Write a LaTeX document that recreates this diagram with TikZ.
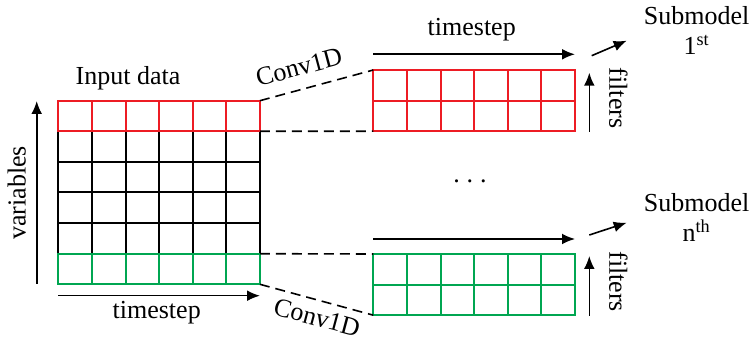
\documentclass[tikz,border=0pt]{standalone}
\usepackage{fontspec}
\setmainfont{Liberation Serif}
\usetikzlibrary{arrows.meta}
\definecolor{rowred}{RGB}{237,28,36}
\definecolor{rowgreen}{RGB}{0,166,81}
\tikzset{
  cell/.style={line width=1pt},
  axis/.style={-{Latex[length=6.5pt,width=5.4pt]}, line width=0.8pt},
  link/.style={line width=0.8pt, dash pattern=on 5pt off 3pt},
  lbl/.style={font=\fontsize{13}{15}\selectfont, inner sep=0pt},
}
\begin{document}
\begin{tikzpicture}[x=0.5pt,y=-0.5pt]
    \def \cw {33.6}
    \def \ch {30.6}
    \useasboundingbox (0,0) rectangle (754,341);

    % входная матрица
    \foreach \i in {0,...,5} {
        \foreach \j in {0,...,5} {
            \draw [cell] (58.3+\i*\cw, 100.7+\j*\ch) rectangle ++(\cw,\ch);
        }
    }
    \foreach \i in {0,...,5} {
        \draw [cell, rowred] (58.3+\i*\cw, 100.7) rectangle ++(\cw,\ch);
        \draw [cell, rowgreen] (58.3+\i*\cw, 253.7) rectangle ++(\cw,\ch);
    }

    % карты признаков
    \foreach \i in {0,...,5} {
        \foreach \j in {0,1} {
            \draw [cell, rowred] (373.3+\i*\cw, 70+\j*\ch) rectangle ++(\cw,\ch);
            \draw [cell, rowgreen] (373.3+\i*\cw, 254+\j*\ch) rectangle ++(\cw,\ch);
        }
    }

    % углы
    \coordinate (in-ne) at (259.9, 100.7);
    \coordinate (in-red-se) at (259.9, 131.3);
    \coordinate (in-green-ne) at (259.9, 253.7);
    \coordinate (in-se) at (259.9, 284.3);
    \coordinate (top-nw) at (373.3, 70);
    \coordinate (top-sw) at (373.3, 131.2);
    \coordinate (bot-nw) at (373.3, 254);
    \coordinate (bot-sw) at (373.3, 315.2);

    \draw [link] (in-ne) -- (top-nw);
    \draw [link] (in-red-se) -- (top-sw);
    \draw [link] (in-green-ne) -- (bot-nw);
    \draw [link] (in-se) -- (bot-sw);

    % оси
    \coordinate (var-s) at (36.7, 284);
    \coordinate (var-n) at (36.7, 101);
    \coordinate (ts-w) at (58.3, 295.7);
    \coordinate (ts-e) at (260, 295.7);
    \coordinate (ts1-w) at (373.3, 54.3);
    \coordinate (ts1-e) at (575, 54.3);
    \coordinate (tsn-w) at (373.3, 239);
    \coordinate (tsn-e) at (575, 239);
    \coordinate (f1-s) at (589.3, 132);
    \coordinate (f1-n) at (589.3, 72.7);
    \coordinate (fn-s) at (589.3, 316);
    \coordinate (fn-n) at (589.3, 256);
    \coordinate (out1-a) at (591.7, 55.7);
    \coordinate (out1-b) at (626.7, 40.7);
    \coordinate (outn-a) at (589.3, 235);
    \coordinate (outn-b) at (626.7, 222.7);

    \draw [axis] (var-s) -- (var-n);
    \draw [axis] (ts-w) -- (ts-e);
    \draw [axis] (ts1-w) -- (ts1-e);
    \draw [axis] (tsn-w) -- (tsn-e);
    \draw [axis] (f1-s) -- (f1-n);
    \draw [axis] (fn-s) -- (fn-n);
    \draw [axis] (out1-a) -- (out1-b);
    \draw [axis] (outn-a) -- (outn-b);

    % подписи
    \node [lbl] (input) at (128, 78) {Input data};
    \node [lbl, rotate=90] (vars) at (16.7, 193) {variables};
    \node [lbl] (ts-in) at (156.7, 313) {timestep};
    \node [lbl] (ts-out) at (471.7, 30) {timestep};
    \node [lbl, rotate=-90] (filt-1) at (618.3, 98) {filters};
    \node [lbl, rotate=-90] (filt-n) at (618.3, 281.7) {filters};
    \node [lbl, rotate=15] (conv-1) at (299, 67) {Conv1D};
    \node [lbl, rotate=-15] (conv-n) at (317, 317.5) {Conv1D};
    \node [lbl] (dots) at (470, 181.7) {.\hspace{3.4pt}.\hspace{3.4pt}.};
    \node [lbl, align=center] (sub-1) at (696.7, 30) {Submodel\\1\textsuperscript{st}};
    \node [lbl, align=center] (sub-n) at (696.7, 217) {Submodel\\n\textsuperscript{th}};
\end{tikzpicture}
\end{document}
